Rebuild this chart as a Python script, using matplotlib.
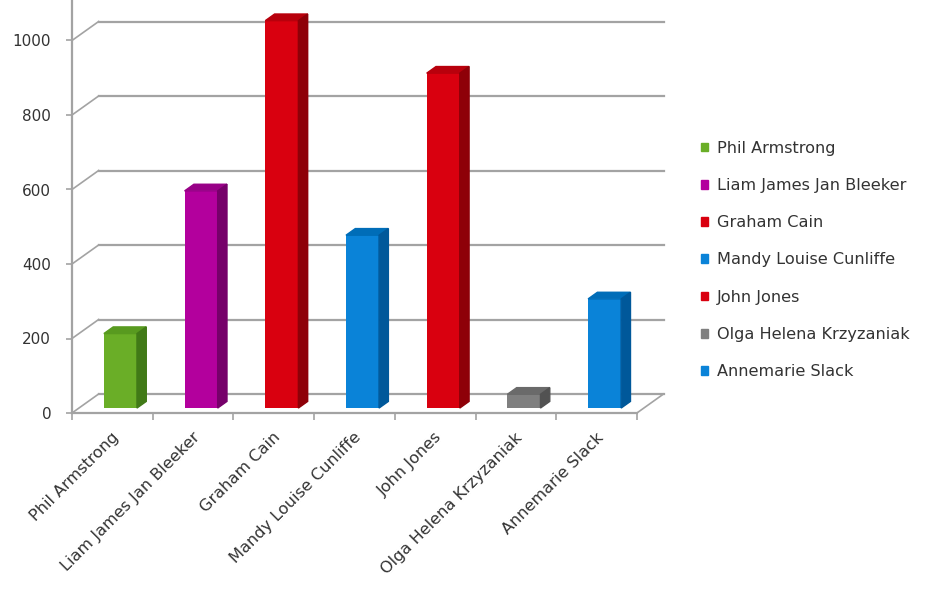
import numpy as np
import matplotlib
matplotlib.use("Agg")
import matplotlib.pyplot as plt
import matplotlib.transforms as mtransforms
from matplotlib.patches import Polygon, Patch

#--- data ---#
names = ["Phil Armstrong", "Liam James Jan Bleeker", "Graham Cain",
         "Mandy Louise Cunliffe", "John Jones", "Olga Helena Krzyzaniak",
         "Annemarie Slack"]
values = [200, 583, 1040, 464, 899, 37, 293]
front_cols = ["#6aae27", "#b3009d", "#d9000f", "#0a83d8", "#d9000f", "#7f7f7f", "#0a83d8"]
top_cols = ["#589a1f", "#980087", "#b8000c", "#006db8", "#b8000c", "#6a6a6a", "#006db8"]
side_cols = ["#417a17", "#76006a", "#8e0008", "#00589a", "#8e0008", "#525252", "#00589a"]
yticks = [0, 200, 400, 600, 800, 1000]

#--- fake 3d settings ---#
DX = 0.33      # depth offset in category units
DY = 51.0      # depth offset in value units
d0, d1 = 0.26, 0.61
bw = 0.41
grid_c = "#a3a3a3"
txt_c = "#333333"

plt.rcParams["font.family"] = ["DejaVu Sans"]
fig = plt.figure(figsize=(9.3, 5.96), dpi=100)
ax = fig.add_axes([72 / 930, (596 - 413) / 596, 7.45 * 80.7 / 930, 413 / 596])
ax.set_xlim(0, 7.45)
ax.set_ylim(0, 413 / 0.3725)

n = len(names)

# back wall gridlines + left wall diagonals
for v in yticks:
    ax.plot([DX, n + DX], [v + DY, v + DY], color=grid_c, lw=1.6, zorder=1)
    ax.plot([0, DX], [v, v + DY], color=grid_c, lw=1.2, zorder=1)

# floor edges
ax.plot([0, n], [0, 0], color=grid_c, lw=1.6, clip_on=False, zorder=1)
ax.plot([n, n + DX], [0, DY], color=grid_c, lw=1.2, zorder=1)

# bars
dd = d1 - d0
for i in range(n):
    xc = i + 0.5 + 0.1
    xl, xr = xc - bw / 2, xc + bw / 2
    bot = d0 * DY
    top = values[i] + bot
    ax.bar(xc, values[i], width=bw, bottom=bot, color=front_cols[i], zorder=3)
    ax.add_patch(Polygon([(xl, top), (xl + dd * DX, top + dd * DY),
                          (xr + dd * DX, top + dd * DY), (xr, top)],
                         closed=True, color=top_cols[i], zorder=3))
    ax.add_patch(Polygon([(xr, bot), (xr, top), (xr + dd * DX, top + dd * DY),
                          (xr + dd * DX, bot + dd * DY)],
                         closed=True, color=side_cols[i], zorder=3))

# axes styling
for s in ["top", "right", "bottom"]:
    ax.spines[s].set_visible(False)
ax.spines["left"].set_color(grid_c)
ax.spines["left"].set_linewidth(1.6)

ax.set_yticks(yticks)
ax.set_yticklabels([str(t) for t in yticks])
ax.tick_params(axis="y", length=4, width=1.2, color=grid_c, pad=11,
               labelsize=11, labelcolor=txt_c)

ax.set_xticks(np.arange(n + 1))
ax.set_xticklabels([""] * (n + 1))
ax.tick_params(axis="x", which="major", length=5, width=1.2, color=grid_c)
ax.set_xticks(np.arange(n) + 0.5, minor=True)
ax.set_xticklabels(names, minor=True)
ax.tick_params(axis="x", which="minor", length=0, pad=12, labelsize=11.6,
               labelcolor=txt_c)
shift = mtransforms.ScaledTranslation(-1 / 100, 0, fig.dpi_scale_trans)
for lbl in ax.get_xticklabels(minor=True):
    lbl.set_rotation(45)
    lbl.set_ha("right")
    lbl.set_va("top")
    lbl.set_rotation_mode("anchor")
    lbl.set_transform(lbl.get_transform() + shift)

# legend
handles = [Patch(color=c) for c in front_cols]
ax.legend(handles, names, loc="center left", bbox_to_anchor=(686 / 930, 1 - 260 / 596),
          bbox_transform=fig.transFigure, frameon=False, fontsize=11.6,
          handlelength=0.45, handleheight=0.45, handletextpad=0.55,
          labelspacing=1.38, labelcolor=txt_c)

plt.savefig("out.png", dpi=100)
